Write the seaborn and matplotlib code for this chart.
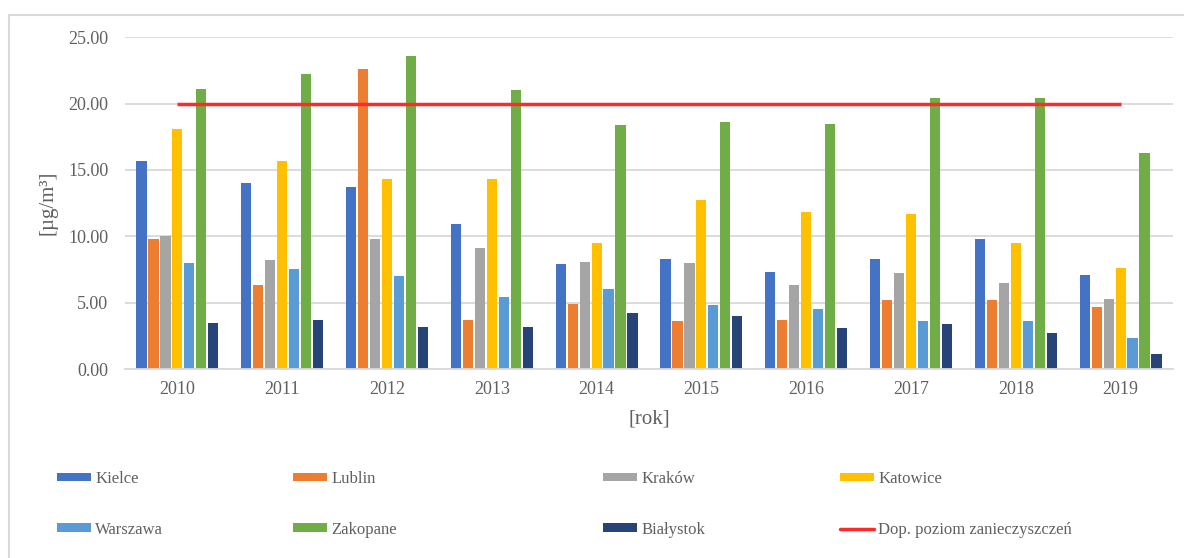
import numpy as np
import pandas as pd
import matplotlib
matplotlib.use("Agg")
import matplotlib.pyplot as plt
from matplotlib.patches import Patch, Rectangle
from matplotlib.lines import Line2D
import seaborn as sns

years = ["2010", "2011", "2012", "2013", "2014", "2015", "2016", "2017", "2018", "2019"]
cities = ["Kielce", "Lublin", "Kraków", "Katowice", "Warszawa", "Zakopane", "Białystok"]
kielce = [15.7, 14.0, 13.7, 10.9, 7.9, 8.3, 7.3, 8.3, 9.8, 7.1]
lublin = [9.8, 6.3, 22.6, 3.7, 4.9, 3.6, 3.7, 5.2, 5.2, 4.7]
krakow = [10.0, 8.2, 9.8, 9.1, 8.1, 8.0, 6.3, 7.2, 6.5, 5.3]
katowice = [18.1, 15.7, 14.3, 14.3, 9.5, 12.7, 11.8, 11.7, 9.5, 7.6]
warszawa = [8.0, 7.5, 7.0, 5.4, 6.0, 4.8, 4.5, 3.6, 3.6, 2.3]
zakopane = [21.1, 22.2, 23.6, 21.0, 18.4, 18.6, 18.5, 20.4, 20.4, 16.3]
bialystok = [3.5, 3.7, 3.2, 3.2, 4.2, 4.0, 3.1, 3.4, 2.7, 1.1]
limit = [20.0] * 10
limit_label = "Dop. poziom zanieczyszczeń"

colors = ["#4472C4", "#ED7D31", "#A5A5A5", "#FFC000", "#5B9BD5", "#70AD47", "#264478"]
line_color = "#FF2A2A"
text_color = "#606060"
grid_color = "#D9D9D9"

series = [kielce, lublin, krakow, katowice, warszawa, zakopane, bialystok]
rows = []
for c, vals in zip(cities, series):
    for y, v in zip(years, vals):
        rows.append({"rok": y, "miasto": c, "wartosc": v})
df = pd.DataFrame(rows)

sns.set_theme(style="white")
plt.rcParams["font.family"] = ["Liberation Serif", "DejaVu Serif"]

fig = plt.figure(figsize=(11.84, 5.58), dpi=100)
ax = fig.add_axes([125 / 1184, 1 - 369 / 558, 1048 / 1184, (369 - 37.3) / 558])

sns.barplot(data=df, x="rok", y="wartosc", hue="miasto", order=years, hue_order=cities,
            palette=colors, saturation=1, width=0.8, gap=0.15, linewidth=0,
            legend=False, ax=ax, zorder=2)
ax.plot(np.arange(len(years)), limit, color=line_color, lw=2.5, zorder=3, solid_capstyle="butt")

ax.set_ylim(0, 25)
ax.set_xlim(-0.5, len(years) - 0.5)
ax.set_yticks(np.arange(0, 25.01, 5))
ax.set_yticklabels([f"{v:.2f}" for v in np.arange(0, 25.01, 5)])
ax.yaxis.grid(True, color=grid_color, lw=1.3, zorder=0)
ax.set_axisbelow(True)
for s in ["top", "right", "left"]:
    ax.spines[s].set_visible(False)
ax.spines["bottom"].set_color(grid_color)
ax.spines["bottom"].set_linewidth(1.3)
ax.tick_params(axis="both", length=0, labelsize=13, colors=text_color)
ax.tick_params(axis="x", pad=9)
ax.tick_params(axis="y", pad=12)

ax.set_xlabel("[rok]", fontsize=15, color=text_color)
ax.set_ylabel("[µg/m³]", fontsize=15, color=text_color)
ax.xaxis.set_label_coords(0.5, -0.122)
ax.yaxis.set_label_coords(-0.064, 0.5)

# outer chart frame
fig.patches.append(Rectangle((8.5 / 1184, -0.5), 3.0, 1 - 14.5 / 558 + 0.5, transform=fig.transFigure,
                             fill=False, edgecolor=grid_color, lw=1.5))

handles = [Patch(facecolor=c, edgecolor="none") for c in colors]
handles.append(Line2D([0], [0], color=line_color, lw=2.5))
labels = cities + [limit_label]
groups = [(0, 4), (1, 5), (2, 6), (3, 7)]
xs = [57, 293, 603, 840]
for (a, b), x in zip(groups, xs):
    leg = fig.legend([handles[a], handles[b]], [labels[a], labels[b]],
                     loc="upper left", bbox_to_anchor=(x / 1184, 1 - 471 / 558),
                     frameon=False, borderpad=0, fontsize=12, handlelength=2.05,
                     handleheight=0.42, handletextpad=0.25, labelspacing=2.08,
                     borderaxespad=0)
    for t in leg.get_texts():
        t.set_color(text_color)

fig.savefig("out.png", dpi=100, facecolor="white")
